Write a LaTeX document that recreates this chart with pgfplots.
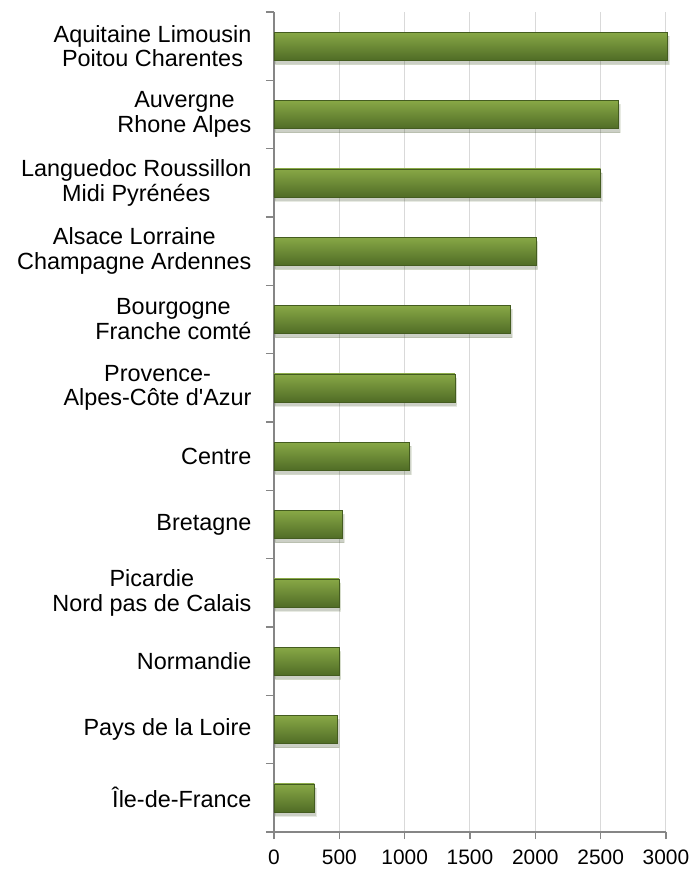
\documentclass[border=0pt]{standalone}
\usepackage{fontspec}
\setmainfont{Liberation Sans}
\usepackage{pgfplots}
\pgfplotsset{compat=1.18}
\usetikzlibrary{shadows}
\definecolor{barhi}{RGB}{180,210,115}
\definecolor{bartop}{RGB}{136,168,70}
\definecolor{barlo}{RGB}{80,108,38}
\definecolor{axgray}{RGB}{134,134,134}
\definecolor{gridgray}{RGB}{217,217,217}

\pgfplotsset{greenbar/.style={draw=barlo!85!black, line width=0.5bp,
  top color=bartop, middle color=barhi, bottom color=barlo,
  bar shift=0pt, forget plot,
  drop shadow={shadow xshift=1.5bp, shadow yshift=-4bp, opacity=0.13, fill=black}}}

\begin{document}
\begin{tikzpicture}
\begin{axis}[
  name=ax,
  scale only axis, width=392bp, height=820bp,
  xbar, bar width=28bp,
  xmin=0, xmax=3000,
  ymin=-0.5, ymax=11.5, y dir=reverse,
  clip=false,
  axis lines*=left,
  axis line style={axgray, line width=1.2bp},
  xtick={0,500,...,3000},
  xmajorgrids, grid style={gridgray, line width=1bp},
  x tick style={axgray, line width=1.2bp},
  xtick align=outside, major tick length=7bp,
  ytick={0,...,11},
  y tick style={draw=none},
  yticklabels={
    {Aquitaine Limousin\\Poitou Charentes},
    {Auvergne\\Rhone Alpes},
    {Languedoc Roussillon\\Midi Pyrénées},
    {Alsace Lorraine\\Champagne Ardennes},
    {Bourgogne\\Franche comté},
    {Provence-\\Alpes-Côte d\textquotesingle Azur},
    {Centre},
    {Bretagne},
    {Picardie\\Nord pas de Calais},
    {Normandie},
    {Pays de la Loire},
    {Île-de-France}},
  yticklabel style={align=center, font=\fontsize{23.5}{25}\selectfont, xshift=-12bp},
  xticklabel style={font=\fontsize{21}{24}\selectfont, yshift=-7bp},
  /pgf/number format/assume math mode=true,
  /pgf/number format/1000 sep={},
  extra y ticks={-0.5,0.5,...,11.5},
  extra y tick labels={},
  extra y tick style={grid=none, y tick style={draw=axgray, line width=1.2bp}, ytick align=outside, major tick length=8bp},
]
\addplot[greenbar] coordinates {(3010,0)};
\addplot[greenbar] coordinates {(2635,1)};
\addplot[greenbar] coordinates {(2500,2)};
\addplot[greenbar] coordinates {(2005,3)};
\addplot[greenbar] coordinates {(1810,4)};
\addplot[greenbar] coordinates {(1385,5)};
\addplot[greenbar] coordinates {(1038,6)};
\addplot[greenbar] coordinates {(526,7)};
\addplot[greenbar] coordinates {(497,8)};
\addplot[greenbar] coordinates {(497,9)};
\addplot[greenbar] coordinates {(485,10)};
\addplot[greenbar] coordinates {(309,11)};
\end{axis}
\path (ax.south west) ++(-274bp,-39bp) rectangle ++(695bp,871bp);
\end{tikzpicture}
\end{document}
